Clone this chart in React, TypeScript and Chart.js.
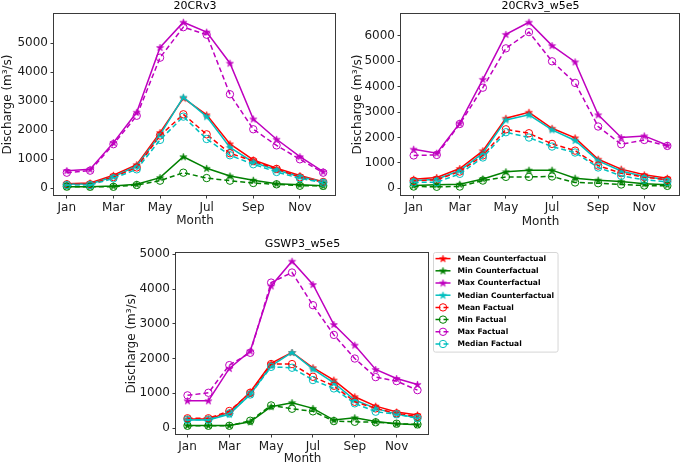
import React, { useEffect, useRef } from 'react';
import { Chart, registerables } from 'chart.js';

Chart.register(...registerables);

const FONT = '"DejaVu Sans", Verdana, sans-serif';

// ---------- categories / ticks ----------
const monthLabels = ['Jan', 'Feb', 'Mar', 'Apr', 'May', 'Jun', 'Jul', 'Aug', 'Sep', 'Oct', 'Nov', 'Dec'];
const monthTickIndex = [0, 2, 4, 6, 8, 10];

const seriesNames = [
  'Mean Counterfactual',
  'Min Counterfactual',
  'Max Counterfactual',
  'Median Counterfactual',
  'Mean Factual',
  'Min Factual',
  'Max Factual',
  'Median Factual',
];

// ---------- 20CRv3 ----------
const cr20MeanCF = [160, 185, 450, 815, 1920, 3110, 2530, 1530, 980, 690, 440, 230];
const cr20MinCF = [60, 60, 80, 140, 370, 1090, 690, 425, 280, 160, 125, 90];
const cr20MaxCF = [610, 655, 1575, 2620, 4850, 5720, 5380, 4310, 2390, 1690, 1090, 575];
const cr20MedianCF = [140, 150, 400, 770, 1840, 3140, 2470, 1410, 900, 630, 400, 220];
const cr20MeanF = [140, 140, 390, 720, 1820, 2550, 1860, 1210, 940, 670, 380, 220];
const cr20MinF = [60, 55, 55, 115, 265, 540, 355, 265, 185, 140, 90, 85];
const cr20MaxF = [540, 610, 1520, 2500, 4500, 5550, 5290, 3240, 2035, 1480, 1000, 540];
const cr20MedianF = [115, 115, 345, 655, 1670, 2470, 1700, 1140, 830, 565, 345, 195];
const cr20YTicks = [0, 1000, 2000, 3000, 4000, 5000];

// ---------- 20CRv3_w5e5 ----------
const w5MeanCF = [355, 420, 775, 1470, 2755, 2990, 2360, 1980, 1140, 750, 525, 395];
const w5MinCF = [105, 130, 155, 365, 645, 710, 710, 395, 315, 260, 170, 130];
const w5MaxCF = [1535, 1380, 2560, 4290, 6060, 6540, 5620, 4975, 2890, 1995, 2060, 1690];
const w5MedianCF = [290, 355, 695, 1380, 2690, 2890, 2300, 1880, 1075, 680, 460, 330];
const w5MeanF = [290, 330, 655, 1290, 2320, 2165, 1745, 1480, 890, 590, 435, 330];
const w5MinF = [65, 55, 65, 300, 445, 445, 460, 225, 195, 145, 105, 90];
const w5MaxF = [1290, 1310, 2530, 3960, 5510, 6150, 5000, 4150, 2430, 1730, 1900, 1665];
const w5MedianF = [225, 235, 565, 1210, 2205, 1995, 1640, 1405, 815, 485, 330, 250];
const w5YTicks = [0, 1000, 2000, 3000, 4000, 5000, 6000];

// ---------- GSWP3_w5e5 ----------
const gsMeanCF = [260, 260, 450, 1035, 1860, 2175, 1735, 1380, 900, 630, 460, 375];
const gsMinCF = [75, 75, 75, 180, 615, 730, 565, 230, 295, 190, 125, 95];
const gsMaxCF = [785, 785, 1715, 2215, 4090, 4800, 4130, 2980, 2385, 1685, 1425, 1255];
const gsMedianCF = [230, 230, 395, 965, 1790, 2175, 1695, 1300, 805, 565, 400, 295];
const gsMeanF = [280, 280, 490, 1015, 1840, 1840, 1475, 1215, 755, 565, 420, 325];
const gsMinF = [65, 65, 65, 210, 650, 555, 480, 200, 180, 165, 125, 105];
const gsMaxF = [940, 1015, 1810, 2165, 4185, 4475, 3535, 2680, 2000, 1465, 1350, 1090];
const gsMedianF = [240, 240, 420, 965, 1760, 1735, 1380, 1140, 710, 470, 395, 280];
const gsYTicks = [0, 1000, 2000, 3000, 4000, 5000];

// ---------- styles ----------
const seriesColors = ['#ff0000', '#008000', '#bf00bf', '#00bfbf', '#ff0000', '#008000', '#bf00bf', '#00bfbf'];
const seriesIsFactual = [false, false, false, false, true, true, true, true];

const panels = [
  {
    title: '20CRv3',
    series: [cr20MeanCF, cr20MinCF, cr20MaxCF, cr20MedianCF, cr20MeanF, cr20MinF, cr20MaxF, cr20MedianF],
    yTicks: cr20YTicks,
    box: { x: 0, y: 0, w: 345, h: 230 },
    area: { left: 54, top: 14, right: 336, bottom: 195 },
    titlePad: { top: 0.5, bottom: 2.5 },
    yTitlePad: 2,
    xTitlePad: 3.5,
    legend: false,
  },
  {
    title: '20CRv3_w5e5',
    series: [w5MeanCF, w5MinCF, w5MaxCF, w5MedianCF, w5MeanF, w5MinF, w5MaxF, w5MedianF],
    yTicks: w5YTicks,
    box: { x: 345, y: 0, w: 340, h: 230 },
    area: { left: 401, top: 14, right: 683, bottom: 195 },
    titlePad: { top: 0.5, bottom: 2.5 },
    yTitlePad: 7,
    xTitlePad: 2.5,
    legend: false,
  },
  {
    title: 'GSWP3_w5e5',
    series: [gsMeanCF, gsMinCF, gsMaxCF, gsMedianCF, gsMeanF, gsMinF, gsMaxF, gsMedianF],
    yTicks: gsYTicks,
    box: { x: 120, y: 230, w: 565, h: 235 },
    area: { left: 176, top: 253, right: 429, bottom: 434 },
    titlePad: { top: 8.5, bottom: 3.5 },
    yTitlePad: 6,
    xTitlePad: 0,
    legend: true,
  },
];

function mplLimits(series: number[][]) {
  const all = series.flat();
  const lo = Math.min(...all);
  const hi = Math.max(...all);
  const m = (hi - lo) * 0.05;
  return { min: lo - m, max: hi + m };
}

const starCache: Record<string, HTMLCanvasElement> = {};
function starImage(color: string) {
  if (starCache[color]) return starCache[color];
  const c = document.createElement('canvas');
  c.width = 9;
  c.height = 9;
  const ctx = c.getContext('2d')!;
  const R = 3.8;
  const r = R * 0.382;
  ctx.beginPath();
  for (let i = 0; i < 10; i++) {
    const rad = i % 2 === 0 ? R : r;
    const a = -Math.PI / 2 + (i * Math.PI) / 5;
    const px = 4.5 + rad * Math.cos(a);
    const py = 4.8 + rad * Math.sin(a);
    if (i === 0) ctx.moveTo(px, py);
    else ctx.lineTo(px, py);
  }
  ctx.closePath();
  ctx.fillStyle = color;
  ctx.strokeStyle = color;
  ctx.lineWidth = 0.6;
  ctx.fill();
  ctx.stroke();
  starCache[color] = c;
  return c;
}

const framePlugin = {
  id: 'mplFrame',
  afterDraw(chart: any) {
    const { ctx, chartArea: a } = chart;
    ctx.save();
    ctx.strokeStyle = '#3a3a3a';
    ctx.lineWidth = 1;
    const l = Math.round(a.left) - 0.5;
    const t = Math.round(a.top) - 0.5;
    const r = Math.round(a.right) - 0.5;
    const b = Math.round(a.bottom) + 0.5;
    ctx.strokeRect(l, t, r - l, b - t);
    ctx.restore();
  },
};

const legendPlugin = {
  id: 'mplLegend',
  afterDraw(chart: any) {
    const o = chart.options.plugins.mplLegend;
    if (!o || !o.display) return;
    const { ctx, chartArea } = chart;
    const ds = chart.data.datasets;
    ctx.save();
    ctx.font = `bold ${o.fontSize}px ${FONT}`;
    const textW = Math.max(...ds.map((d: any) => ctx.measureText(d.label).width));
    const left = Math.round(chartArea.right + o.gap) + 0.5;
    const top = Math.round(chartArea.top + o.dy) + 0.5;
    const w = o.textX + textW + o.padRight;
    const h = ds.length * o.rowH + o.padBottom;
    ctx.beginPath();
    const rr = 2;
    ctx.moveTo(left + rr, top);
    ctx.lineTo(left + w - rr, top);
    ctx.quadraticCurveTo(left + w, top, left + w, top + rr);
    ctx.lineTo(left + w, top + h - rr);
    ctx.quadraticCurveTo(left + w, top + h, left + w - rr, top + h);
    ctx.lineTo(left + rr, top + h);
    ctx.quadraticCurveTo(left, top + h, left, top + h - rr);
    ctx.lineTo(left, top + rr);
    ctx.quadraticCurveTo(left, top, left + rr, top);
    ctx.closePath();
    ctx.fillStyle = 'rgba(255,255,255,0.8)';
    ctx.fill();
    ctx.strokeStyle = '#d6d6d6';
    ctx.lineWidth = 1;
    ctx.stroke();

    ds.forEach((d: any, i: number) => {
      const cy = top + o.rowH * (i + 0.5);
      ctx.save();
      ctx.strokeStyle = d.borderColor;
      ctx.lineWidth = d.borderWidth;
      ctx.setLineDash(d.borderDash || []);
      ctx.beginPath();
      ctx.moveTo(left + o.lineX0, cy);
      ctx.lineTo(left + o.lineX1, cy);
      ctx.stroke();
      ctx.setLineDash([]);
      const mx = left + (o.lineX0 + o.lineX1) / 2;
      if (typeof d.pointStyle === 'object') {
        const img = d.pointStyle as HTMLCanvasElement;
        ctx.drawImage(img, mx - img.width / 2, cy - img.height / 2);
      } else {
        ctx.beginPath();
        ctx.arc(mx, cy, d.pointRadius, 0, Math.PI * 2);
        ctx.lineWidth = d.pointBorderWidth;
        ctx.strokeStyle = d.borderColor;
        ctx.stroke();
      }
      ctx.restore();
      ctx.fillStyle = '#000';
      ctx.textBaseline = 'middle';
      ctx.textAlign = 'left';
      ctx.fillText(d.label, left + o.textX, cy + 0.5);
    });
    ctx.restore();
  },
};

function buildChart(canvas: HTMLCanvasElement, p: any) {
  const lim = mplLimits(p.series);
  const yAxisW = p.area.left - p.box.x;
  const xAxisH = p.box.y + p.box.h - p.area.bottom;
  const padRight = p.box.x + p.box.w - p.area.right;
  const n = p.series.length;

  const datasets = p.series.map((vals: number[], i: number) => {
    const factual = seriesIsFactual[i];
    const color = seriesColors[i];
    return {
      label: seriesNames[i],
      data: vals.map((v, k) => ({ x: k, y: v })),
      borderColor: color,
      backgroundColor: color,
      borderWidth: 1.5,
      borderDash: factual ? [5, 3] : [],
      pointStyle: factual ? 'circle' : starImage(color),
      pointRadius: factual ? 3.7 : 4,
      pointBorderWidth: 1,
      pointBackgroundColor: factual ? 'rgba(0,0,0,0)' : color,
      pointBorderColor: color,
      tension: 0,
      fill: false,
      order: n - i,
    };
  });

  const tickFont = { family: FONT, size: 12 };
  const tickColor = '#1a1a1a';

  return new Chart(canvas, {
    type: 'line',
    data: { datasets },
    plugins: [framePlugin, legendPlugin],
    options: {
      responsive: false,
      maintainAspectRatio: false,
      animation: false,
      events: [],
      layout: { padding: { left: 0, top: 0, right: padRight, bottom: 0 } },
      plugins: {
        legend: { display: false },
        tooltip: { enabled: false },
        title: {
          display: true,
          text: p.title,
          fullSize: false,
          color: '#000',
          font: { family: FONT, size: 11, weight: 'normal', lineHeight: 1 },
          padding: p.titlePad,
        },
        mplLegend: {
          display: p.legend,
          fontSize: 7.5,
          gap: 4,
          dy: -1,
          rowH: 12.2,
          padBottom: 2,
          lineX0: 2,
          lineX1: 17,
          textX: 24,
          padRight: 4,
        },
      } as any,
      scales: {
        x: {
          type: 'linear',
          min: -0.55,
          max: 11.55,
          afterBuildTicks: (s: any) => {
            s.ticks = monthTickIndex.map((v) => ({ value: v }));
          },
          afterFit: (s: any) => {
            s.height = xAxisH;
          },
          ticks: {
            callback: (v: any) => monthLabels[v as number],
            font: tickFont,
            color: tickColor,
            padding: 2,
            autoSkip: false,
            maxRotation: 0,
          },
          grid: { display: true, drawOnChartArea: false, drawTicks: true, tickLength: 3.5, tickColor: '#3a3a3a' },
          border: { display: false },
          title: {
            display: true,
            text: 'Month',
            color: tickColor,
            font: { family: FONT, size: 12, lineHeight: 1 },
            padding: { top: 0, bottom: p.xTitlePad },
          },
        },
        y: {
          type: 'linear',
          min: lim.min,
          max: lim.max,
          afterBuildTicks: (s: any) => {
            s.ticks = p.yTicks.map((v: number) => ({ value: v }));
          },
          afterFit: (s: any) => {
            s.width = yAxisW;
          },
          ticks: {
            callback: (v: any) => String(v),
            font: tickFont,
            color: tickColor,
            padding: 2.5,
          },
          grid: { display: true, drawOnChartArea: false, drawTicks: true, tickLength: 3.5, tickColor: '#3a3a3a' },
          border: { display: false },
          title: {
            display: true,
            text: 'Discharge (m³/s)',
            color: tickColor,
            font: { family: FONT, size: 12, lineHeight: 1 },
            padding: { top: p.yTitlePad, bottom: 0 },
          },
        },
      },
    } as any,
  });
}

export default function App() {
  const canvases = useRef<(HTMLCanvasElement | null)[]>([]);

  useEffect(() => {
    const charts = panels.map((p, i) => buildChart(canvases.current[i] as HTMLCanvasElement, p));
    return () => charts.forEach((c) => c.destroy());
  }, []);

  return (
    <div
      style={{
        position: 'fixed',
        left: 0,
        top: 0,
        width: 685,
        height: 465,
        background: '#ffffff',
        overflow: 'hidden',
      }}
    >
      {panels.map((p, i) => (
        <canvas
          key={p.title}
          ref={(el) => {
            canvases.current[i] = el;
          }}
          width={p.box.w}
          height={p.box.h}
          style={{ position: 'absolute', left: p.box.x, top: p.box.y, width: p.box.w, height: p.box.h }}
        />
      ))}
    </div>
  );
}
